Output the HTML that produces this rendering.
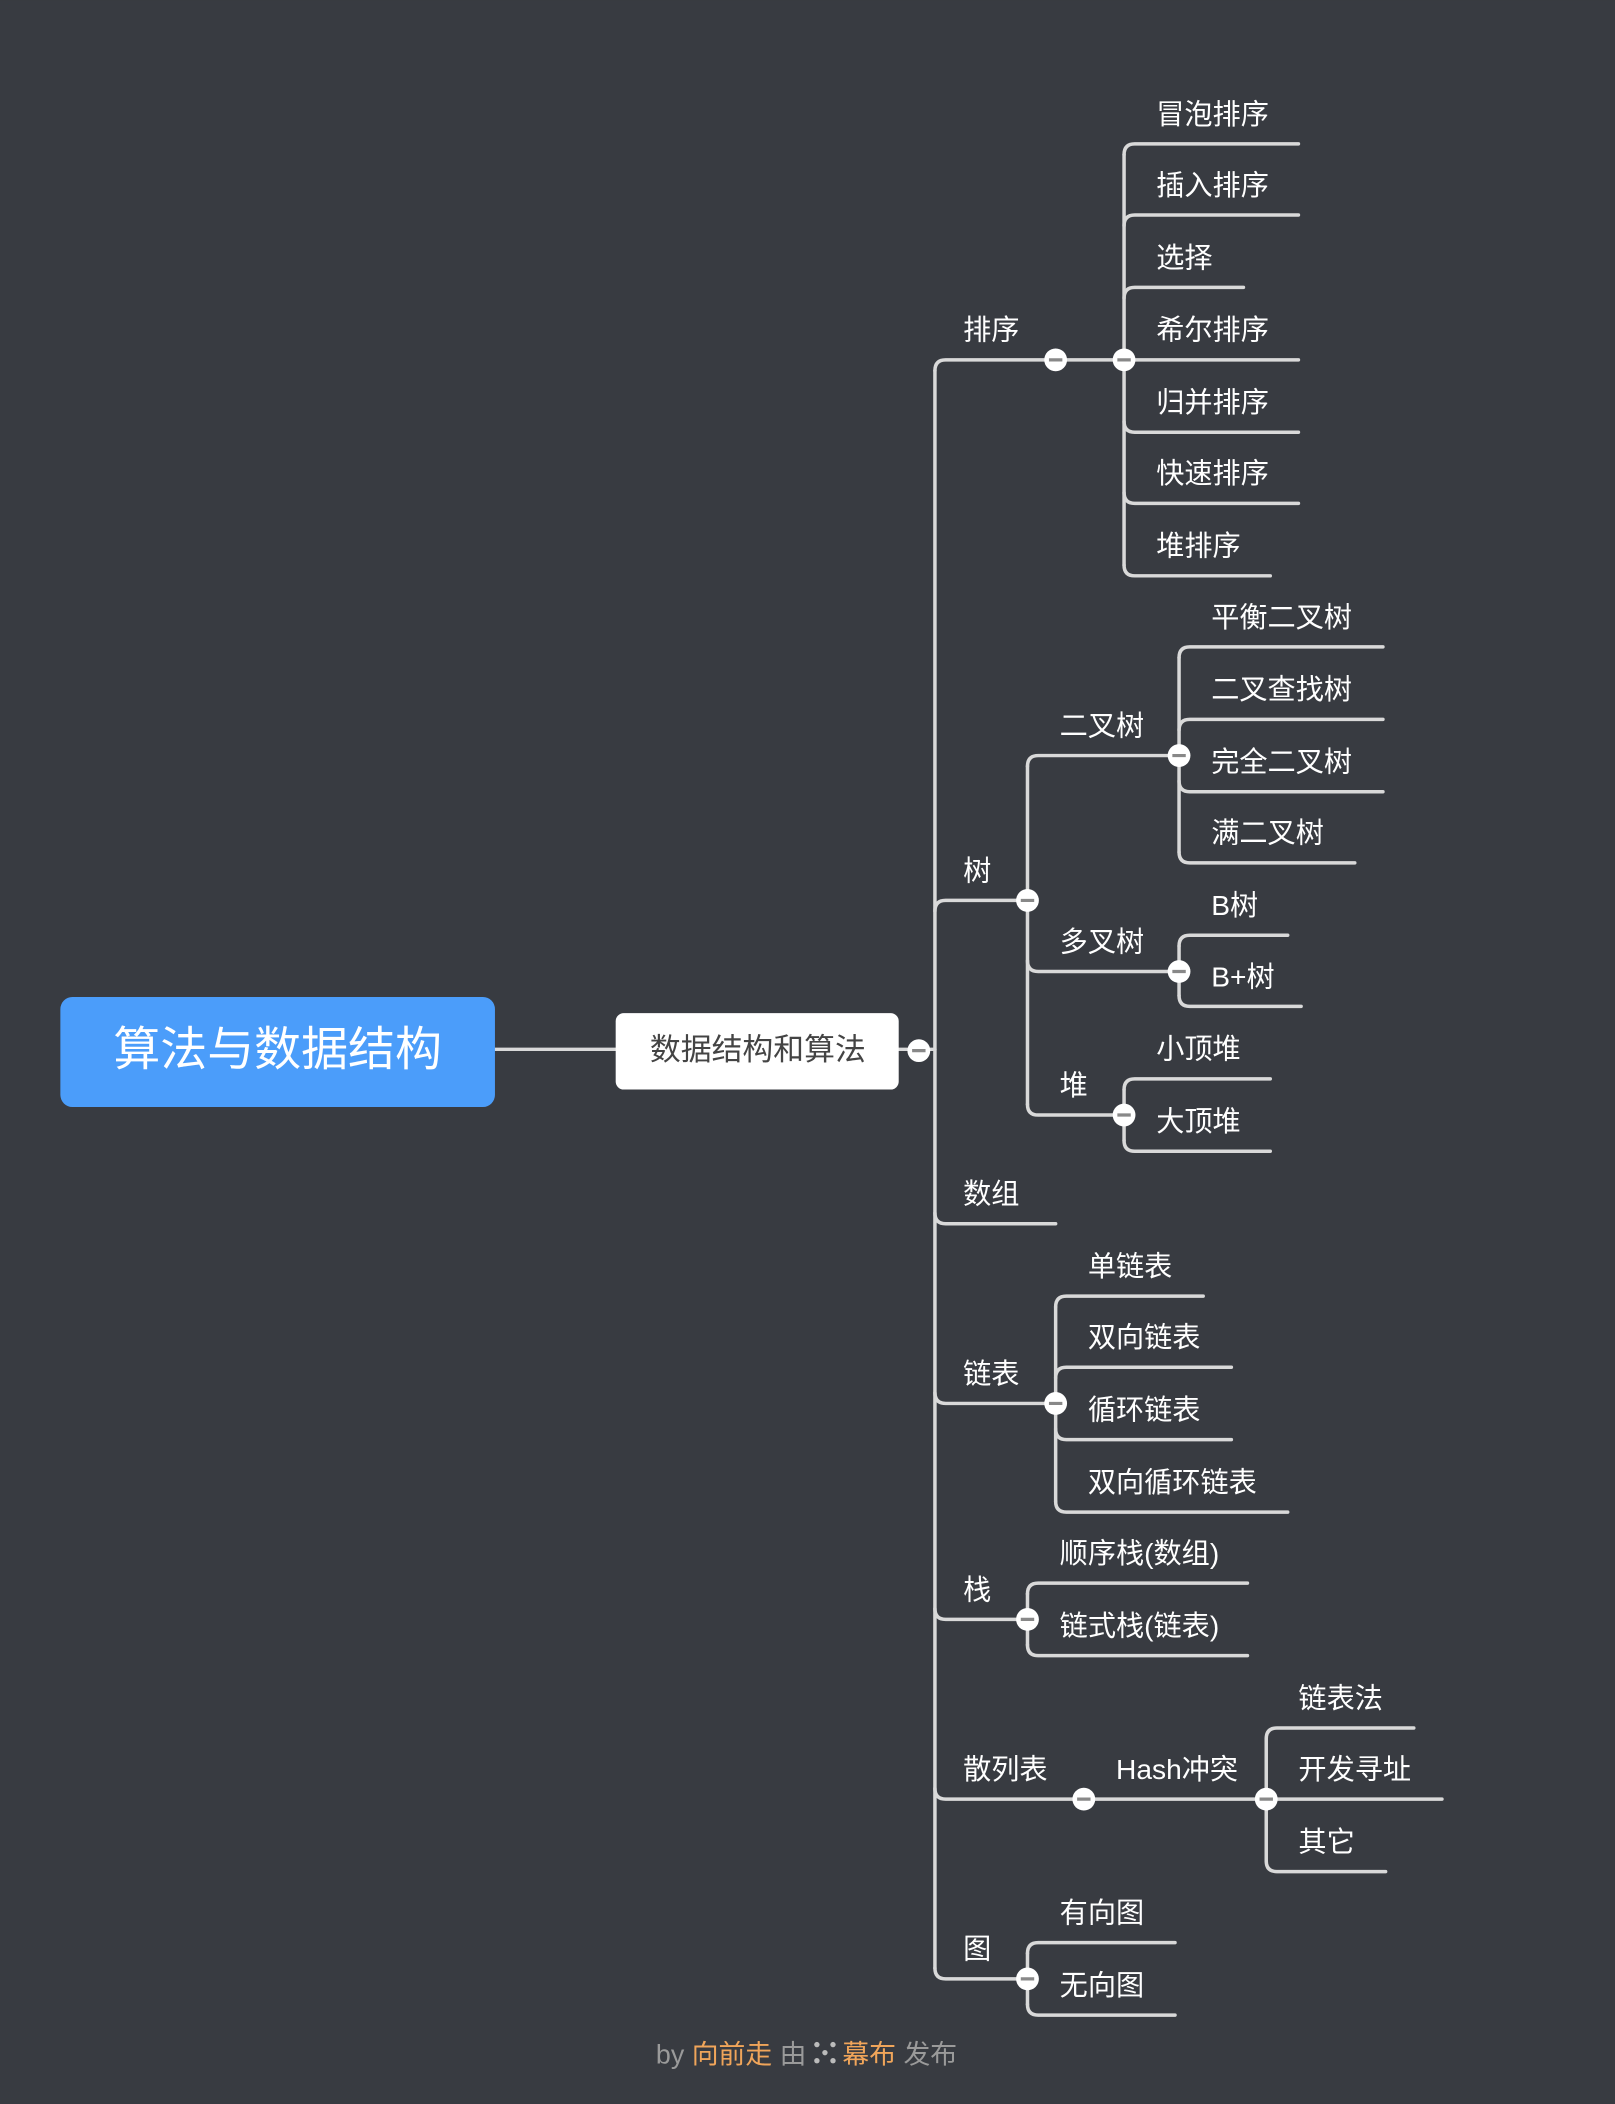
<!DOCTYPE html>
<html><head><meta charset="utf-8"><style>
html,body{margin:0;padding:0;background:#383b41;}
svg{display:block}
text{font-family:"Liberation Sans","Noto Sans CJK SC",sans-serif;}
</style></head><body>
<svg width="1615" height="2104" viewBox="0 0 1204 1568" xmlns="http://www.w3.org/2000/svg">
<rect width="1204" height="1568" fill="#383b41"/>
<g fill="none" stroke="#d9d9d9" stroke-width="2.6" stroke-linecap="round">
<path d="M369,782H459M670,782H697"/>
<path d="M697,276V1467"/>
<path d="M697,276Q697,268 705,268H838"/>
<path d="M697,679Q697,671 705,671H766"/>
<path d="M697,904Q697,912 705,912H787"/>
<path d="M697,1038Q697,1046 705,1046H787"/>
<path d="M697,1199Q697,1207 705,1207H766"/>
<path d="M697,1333Q697,1341 705,1341H944"/>
<path d="M697,1467Q697,1475 705,1475H766"/>
<path d="M838,115V421"/>
<path d="M838,115Q838,107 846,107H968M838,168Q838,160 846,160H968M838,222Q838,214 846,214H927M838,268H968M838,314Q838,322 846,322H968M838,367Q838,375 846,375H968M838,421Q838,429 846,429H947"/>
<path d="M766,571V823"/>
<path d="M766,571Q766,563 774,563H879M766,716Q766,724 774,724H879M766,823Q766,831 774,831H838"/>
<path d="M879,490V635"/>
<path d="M879,490Q879,482 887,482H1031M879,544Q879,536 887,536H1031M879,582Q879,590 887,590H1031M879,635Q879,643 887,643H1010"/>
<path d="M879,705V742"/>
<path d="M879,705Q879,697 887,697H960M879,742Q879,750 887,750H970"/>
<path d="M838,812V850"/>
<path d="M838,812Q838,804 846,804H947M838,850Q838,858 846,858H947"/>
<path d="M787,974V1119"/>
<path d="M787,974Q787,966 795,966H897M787,1027Q787,1019 795,1019H918M787,1065Q787,1073 795,1073H918M787,1119Q787,1127 795,1127H960"/>
<path d="M766,1188V1226"/>
<path d="M766,1188Q766,1180 774,1180H930M766,1226Q766,1234 774,1234H930"/>
<path d="M944,1296V1387"/>
<path d="M944,1296Q944,1288 952,1288H1054M944,1341H1075M944,1387Q944,1395 952,1395H1033"/>
<path d="M766,1456V1494"/>
<path d="M766,1456Q766,1448 774,1448H876M766,1494Q766,1502 774,1502H876"/>
</g>
<rect x="45" y="743" width="324" height="82" rx="9" fill="#4b9dfa"/>
<text x="207" y="794" font-size="35" fill="#fff" text-anchor="middle">算法与数据结构</text>
<rect x="459" y="755" width="211" height="57" rx="6" fill="#fff"/>
<text x="565" y="790" font-size="23" fill="#444" text-anchor="middle">数据结构和算法</text>
<g fill="#fff">
<circle cx="685" cy="783" r="8.5"/><circle cx="787" cy="268" r="8.5"/><circle cx="838" cy="268" r="8.5"/>
<circle cx="766" cy="671" r="8.5"/><circle cx="879" cy="563" r="8.5"/><circle cx="879" cy="724" r="8.5"/>
<circle cx="838" cy="831" r="8.5"/><circle cx="787" cy="1046" r="8.5"/><circle cx="766" cy="1207" r="8.5"/>
<circle cx="808" cy="1341" r="8.5"/><circle cx="944" cy="1341" r="8.5"/><circle cx="766" cy="1475" r="8.5"/>
</g>
<g stroke="#888" stroke-width="2.4">
<path d="M680,783h10M782,268h10M833,268h10M761,671h10M874,563h10M874,724h10M833,831h10M782,1046h10M761,1207h10M803,1341h10M939,1341h10M761,1475h10"/>
</g>
<g font-size="21" fill="#fff">
<text x="718" y="253">排序</text>
<text x="862" y="92">冒泡排序</text>
<text x="862" y="145">插入排序</text>
<text x="862" y="199">选择</text>
<text x="862" y="253">希尔排序</text>
<text x="862" y="307">归并排序</text>
<text x="862" y="360">快速排序</text>
<text x="862" y="414">堆排序</text>
<text x="718" y="656">树</text>
<text x="790" y="548">二叉树</text>
<text x="903" y="467">平衡二叉树</text>
<text x="903" y="521">二叉查找树</text>
<text x="903" y="575">完全二叉树</text>
<text x="903" y="628">满二叉树</text>
<text x="790" y="709">多叉树</text>
<text x="903" y="682">B树</text>
<text x="903" y="735">B+树</text>
<text x="790" y="816">堆</text>
<text x="862" y="789">小顶堆</text>
<text x="862" y="843">大顶堆</text>
<text x="718" y="897">数组</text>
<text x="718" y="1031">链表</text>
<text x="811" y="951">单链表</text>
<text x="811" y="1004">双向链表</text>
<text x="811" y="1058">循环链表</text>
<text x="811" y="1112">双向循环链表</text>
<text x="718" y="1192">栈</text>
<text x="790" y="1165">顺序栈(数组)</text>
<text x="790" y="1219">链式栈(链表)</text>
<text x="718" y="1326">散列表</text>
<text x="832" y="1326">Hash冲突</text>
<text x="968" y="1273">链表法</text>
<text x="968" y="1326">开发寻址</text>
<text x="968" y="1380">其它</text>
<text x="718" y="1460">图</text>
<text x="790" y="1433">有向图</text>
<text x="790" y="1487">无向图</text>
</g>
<text x="489" y="1538" font-size="20"><tspan fill="#9a9a9a">by </tspan><tspan fill="#f0a55a">向前走</tspan><tspan fill="#9a9a9a"> 由</tspan></text>
<text x="628" y="1538" font-size="20"><tspan fill="#f0a55a">幕布</tspan><tspan fill="#9a9a9a"> 发布</tspan></text>
<g fill="#bbb"><circle cx="609" cy="1524" r="2"/><circle cx="621" cy="1524" r="2"/><circle cx="609" cy="1536" r="2"/><circle cx="621" cy="1536" r="2"/><circle cx="615" cy="1530" r="2"/></g>
</svg>
</body></html>
